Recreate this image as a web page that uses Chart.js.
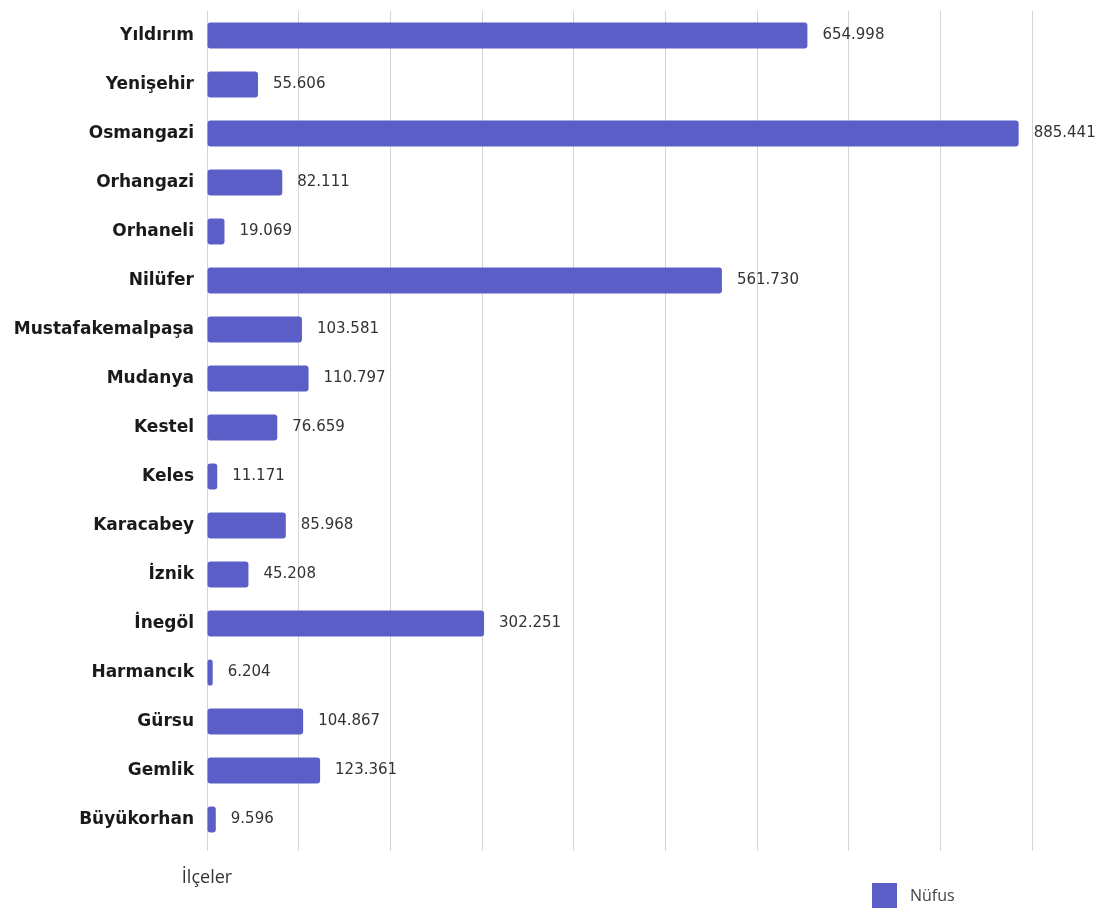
<!DOCTYPE html>
<html>
<head>
<meta charset="utf-8">
<script src="https://cdn.jsdelivr.net/npm/chart.js@4"></script>
<style>
  html, body { margin: 0; padding: 0; background: #fff; }
  #wrap { width: 1113px; height: 911px; }
</style>
</head>
<body>
<div id="wrap"><canvas id="nufusChart"></canvas></div>
<script>
// Bursa ilçe nüfusları
const ilceler = ['Yıldırım', 'Yenişehir', 'Osmangazi', 'Orhangazi', 'Orhaneli', 'Nilüfer',
  'Mustafakemalpaşa', 'Mudanya', 'Kestel', 'Keles', 'Karacabey', 'İznik', 'İnegöl',
  'Harmancık', 'Gürsu', 'Gemlik', 'Büyükorhan'];
const nufus = [654998, 55606, 885441, 82111, 19069, 561730, 103581, 110797, 76659,
  11171, 85968, 45208, 302251, 6204, 104867, 123361, 9596];
const seriesName = 'Nüfus';
const axisTitle = 'İlçeler';

const barColor = '#5a5ec6';

// value labels, axis title and legend drawn by hand
const extras = {
  id: 'extras',
  afterDatasetsDraw(chart) {
    const c = chart.ctx;
    const meta = chart.getDatasetMeta(0);
    c.save();
    c.font = '15px "DejaVu Sans"';
    c.fillStyle = '#333';
    c.textBaseline = 'middle';
    c.textAlign = 'left';
    meta.data.forEach((bar, i) => {
      const txt = nufus[i].toLocaleString('tr-TR');
      c.fillText(txt, bar.x + 15, bar.y);
    });

    const xs = chart.scales.x;
    c.font = '18px "Open Sans"';
    c.fillStyle = '#333';
    c.textAlign = 'center';
    c.fillText(axisTitle, xs.left, 878);

    // legend
    c.fillStyle = barColor;
    c.fillRect(872, 883, 25, 25);
    c.font = '16px "Open Sans"';
    c.fillStyle = '#444';
    c.textAlign = 'left';
    c.fillText(seriesName, 910, 896);
    c.restore();
  }
};

const ctx = document.getElementById('nufusChart').getContext('2d');
const nufusChart = new Chart(ctx, {
  type: 'bar',
  data: {
    labels: ilceler,
    datasets: [{
      label: seriesName,
      data: nufus,
      backgroundColor: barColor,
      borderRadius: 3,
      borderSkipped: false,
      barPercentage: 0.53,
      categoryPercentage: 1
    }]
  },
  options: {
    indexAxis: 'y',
    responsive: true,
    maintainAspectRatio: false,
    animation: false,
    layout: { padding: { top: 11, right: 81, bottom: 60, left: 0 } },
    plugins: {
      legend: { display: false },
      tooltip: { enabled: false }
    },
    scales: {
      x: {
        min: 0,
        max: 900000,
        ticks: { display: false, stepSize: 100000 },
        grid: { color: '#d4d4d4', drawTicks: true, tickLength: 7 },
        border: { display: false },
        afterFit: s => { s.height = 7; }
      },
      y: {
        grid: { display: false, drawTicks: false },
        border: { display: false },
        ticks: {
          color: '#1a1a1a',
          padding: 13,
          font: { family: 'DejaVu Sans', size: 17, weight: 'bold' }
        },
        afterFit: s => { s.width = 207; s.paddingTop = 0; s.paddingBottom = 0; }
      }
    }
  },
  plugins: [extras]
});
</script>
</body>
</html>
